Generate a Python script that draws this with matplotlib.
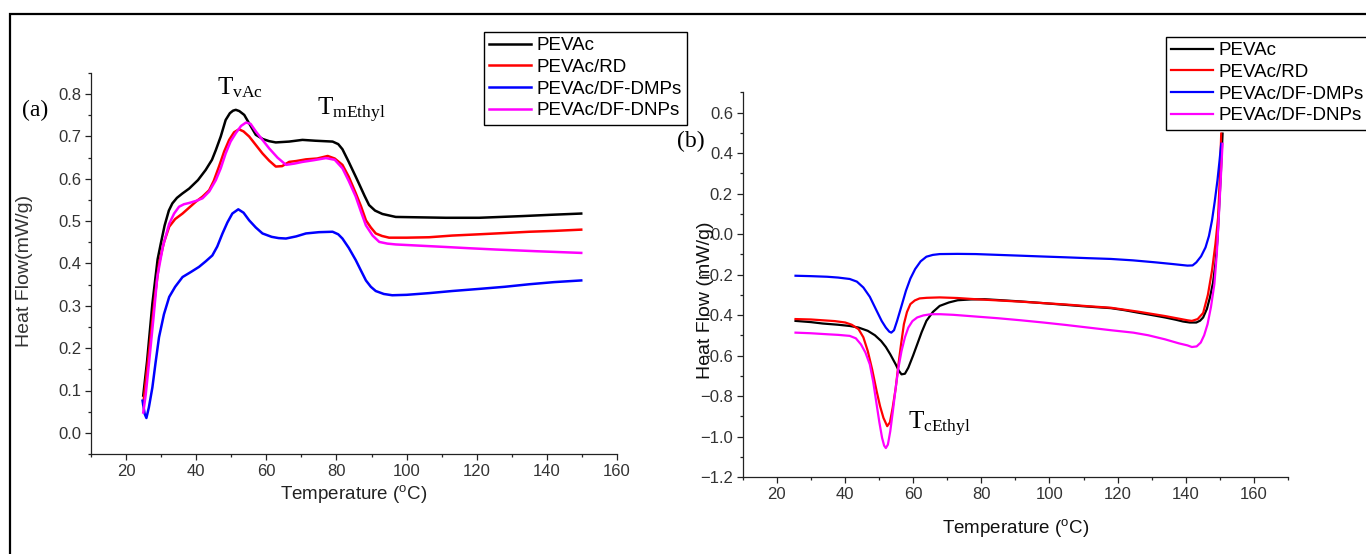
import matplotlib
matplotlib.use("Agg")
import matplotlib.pyplot as plt
from matplotlib.ticker import MultipleLocator, FormatStrFormatter
from matplotlib.patches import Rectangle

plt.rcParams['font.family'] = ['Liberation Sans', 'DejaVu Sans']

# ---------------- Panel (a) data ----------------
a_black_T = [24.9, 26.0, 27.5, 29.0, 29.9, 31.0, 32.2, 33.2, 34.5, 36.0, 38.0, 40.5, 42.7, 44.5, 45.6, 47.0,
             48.4, 49.6, 50.5, 51.3, 52.3, 53.7, 55.3, 57.0, 59.0, 60.8, 62.7, 66.5, 70.3, 74.0, 78.9, 80.5,
             81.7, 83.5, 85.5, 86.4, 88.0, 89.3, 91.0, 93.1, 96.9, 104.0, 111.2, 120.7, 133.0, 141.0, 149.8]
a_black_v = [0.088, 0.17, 0.305, 0.41, 0.447, 0.49, 0.525, 0.542, 0.555, 0.565, 0.577, 0.597, 0.621, 0.645, 0.668,
             0.70, 0.739, 0.755, 0.761, 0.763, 0.760, 0.751, 0.728, 0.704, 0.694, 0.689, 0.686, 0.688, 0.692, 0.690,
             0.688, 0.682, 0.670, 0.64, 0.605, 0.589, 0.56, 0.538, 0.525, 0.517, 0.510, 0.509, 0.508, 0.508, 0.512,
             0.515, 0.518]

a_red_T = [24.9, 26.0, 27.0, 28.2, 29.4, 30.8, 32.3, 34.0, 36.1, 38.0, 39.9, 41.8, 43.7, 45.0, 46.5, 48.0,
           49.4, 50.8, 52.2, 53.5, 55.1, 57.0, 58.9, 60.8, 62.7, 64.5, 66.5, 68.5, 71.3, 74.5, 77.5, 79.5,
           81.7, 83.5, 85.5, 87.0, 88.4, 89.8, 91.2, 93.0, 95.0, 100.0, 106.4, 113.0, 120.7, 128.0, 135.0,
           142.0, 149.8]
a_red_v = [0.068, 0.15, 0.226, 0.32, 0.40, 0.45, 0.487, 0.505, 0.518, 0.532, 0.546, 0.558, 0.573, 0.595, 0.629, 0.665,
           0.692, 0.710, 0.717, 0.712, 0.70, 0.68, 0.660, 0.643, 0.629, 0.630, 0.640, 0.642, 0.646, 0.648, 0.654, 0.648,
           0.633, 0.605, 0.566, 0.535, 0.502, 0.485, 0.471, 0.465, 0.461, 0.461, 0.462, 0.466, 0.469, 0.472, 0.475,
           0.477, 0.48]

a_blue_T = [24.7, 25.3, 25.8, 26.5, 27.5, 28.4, 29.4, 30.8, 32.3, 34.0, 36.1, 38.5, 40.8, 42.7, 44.6, 46.0,
            47.5, 48.9, 50.3, 52.0, 53.5, 55.1, 57.0, 58.9, 61.5, 63.5, 65.6, 68.5, 71.3, 75.0, 78.9, 80.5,
            81.7, 83.5, 85.5, 87.0, 88.4, 89.8, 91.2, 93.5, 95.9, 100.0, 106.4, 113.0, 120.7, 128.0, 135.0,
            142.0, 149.8]
a_blue_v = [0.076, 0.045, 0.035, 0.06, 0.107, 0.165, 0.226, 0.28, 0.321, 0.345, 0.368, 0.38, 0.392, 0.405, 0.419, 0.44,
            0.471, 0.497, 0.518, 0.528, 0.52, 0.502, 0.485, 0.471, 0.463, 0.46, 0.459, 0.464, 0.471, 0.474, 0.475, 0.469,
            0.459, 0.437, 0.408, 0.383, 0.36, 0.345, 0.335, 0.328, 0.325, 0.326, 0.330, 0.335, 0.340, 0.345, 0.351,
            0.356, 0.360]

a_mag_T = [24.9, 25.6, 26.6, 27.8, 28.9, 30.5, 32.3, 33.7, 35.1, 36.5, 38.0, 40.0, 41.8, 43.7, 45.6, 47.0,
           48.4, 49.8, 51.3, 52.8, 54.2, 55.5, 57.0, 58.9, 60.8, 63.2, 65.6, 68.0, 70.3, 73.5, 77.0, 79.5,
           81.7, 83.5, 85.5, 87.0, 88.4, 90.3, 92.2, 94.5, 96.9, 104.0, 111.2, 118.0, 125.5, 137.0, 149.8]
a_mag_v = [0.048, 0.09, 0.17, 0.27, 0.368, 0.44, 0.494, 0.518, 0.534, 0.540, 0.543, 0.548, 0.554, 0.570, 0.597, 0.625,
           0.660, 0.688, 0.708, 0.725, 0.733, 0.730, 0.712, 0.692, 0.672, 0.650, 0.633, 0.636, 0.640, 0.644, 0.649, 0.645,
           0.625, 0.595, 0.558, 0.522, 0.49, 0.466, 0.451, 0.447, 0.445, 0.442, 0.439, 0.436, 0.433, 0.429, 0.425]

# ---------------- Panel (b) data ----------------
b_black_T = [25.5, 30.0, 33.5, 38.0, 41.4, 44.0, 46.7, 48.8, 50.6, 52.0, 53.3, 54.9, 55.8, 56.6, 57.6, 58.6,
             60.0, 61.2, 62.5, 63.9, 65.8, 67.8, 70.5, 73.1, 77.0, 81.0, 86.0, 91.6, 98.0, 104.8, 111.0, 118.0,
             122.0, 125.9, 130.0, 133.9, 137.0, 139.2, 141.2, 143.1, 144.2, 145.1, 146.2, 147.1, 148.0, 148.7,
             149.3, 149.7, 150.3, 150.8]
b_black_v = [-0.429, -0.435, -0.442, -0.448, -0.454, -0.462, -0.478, -0.50, -0.528, -0.558, -0.594, -0.644, -0.675,
             -0.693, -0.690, -0.66, -0.60, -0.545, -0.485, -0.429, -0.385, -0.355, -0.338, -0.327, -0.323, -0.322,
             -0.327, -0.333, -0.341, -0.35, -0.358, -0.366, -0.376, -0.388, -0.40, -0.412, -0.423, -0.432, -0.437,
             -0.437, -0.428, -0.412, -0.37, -0.313, -0.24, -0.148, -0.03, 0.1, 0.30, 0.496]

b_red_T = [25.5, 30.0, 33.5, 37.0, 40.1, 42.0, 44.0, 45.4, 46.7, 48.0, 49.3, 50.3, 51.3, 52.4, 53.2, 54.0,
           54.9, 55.7, 56.5, 57.3, 58.2, 59.2, 60.5, 61.9, 64.0, 67.8, 73.0, 78.4, 85.0, 91.6, 98.0, 104.8,
           111.0, 118.0, 125.9, 133.9, 138.0, 140.5, 141.8, 143.5, 145.1, 146.5, 147.7, 148.7, 149.5, 150.0, 150.4]
b_red_v = [-0.42, -0.422, -0.426, -0.43, -0.437, -0.448, -0.47, -0.51, -0.578, -0.67, -0.776, -0.85, -0.908, -0.949,
           -0.93, -0.858, -0.76, -0.644, -0.54, -0.445, -0.385, -0.346, -0.328, -0.318, -0.315, -0.313, -0.316,
           -0.322, -0.328, -0.334, -0.341, -0.348, -0.356, -0.364, -0.383, -0.405, -0.418, -0.426, -0.429, -0.42,
           -0.39, -0.30, -0.181, -0.05, 0.083, 0.28, 0.496]

b_blue_T = [25.5, 30.0, 34.8, 38.0, 41.4, 43.5, 45.4, 47.3, 49.3, 50.8, 52.0, 53.0, 53.6, 54.4, 55.3, 56.6,
            57.9, 59.2, 60.6, 62.2, 63.9, 65.8, 67.8, 73.0, 78.4, 85.0, 91.6, 98.0, 104.8, 111.0, 118.0, 124.5,
            131.2, 136.0, 140.5, 142.0, 143.1, 144.5, 145.8, 146.8, 147.7, 148.5, 149.3, 149.9, 150.4]
b_blue_v = [-0.206, -0.208, -0.211, -0.215, -0.222, -0.235, -0.264, -0.31, -0.379, -0.43, -0.462, -0.482, -0.487,
            -0.475, -0.429, -0.355, -0.28, -0.22, -0.173, -0.135, -0.112, -0.103, -0.099, -0.098, -0.099, -0.103,
            -0.107, -0.111, -0.115, -0.119, -0.123, -0.13, -0.14, -0.148, -0.156, -0.155, -0.14, -0.11, -0.066,
            -0.01, 0.067, 0.16, 0.265, 0.36, 0.446]

b_mag_T = [25.5, 30.0, 34.8, 38.0, 41.4, 43.2, 44.7, 46.0, 47.3, 48.3, 49.3, 50.1, 50.9, 51.5, 52.0, 52.6,
           53.3, 54.1, 54.9, 55.7, 56.6, 57.6, 58.6, 59.8, 61.2, 63.0, 65.2, 68.0, 71.8, 78.0, 85.0, 91.6,
           98.2, 104.8, 111.4, 118.0, 124.6, 129.0, 133.9, 138.0, 140.5, 141.8, 143.2, 144.4, 145.4, 146.4,
           147.4, 148.4, 149.1, 149.7, 150.3, 150.8]
b_mag_v = [-0.487, -0.49, -0.495, -0.498, -0.503, -0.515, -0.545, -0.585, -0.644, -0.73, -0.842, -0.93, -1.007,
           -1.045, -1.057, -1.04, -0.974, -0.87, -0.759, -0.66, -0.578, -0.51, -0.462, -0.43, -0.412, -0.402,
           -0.396, -0.396, -0.399, -0.407, -0.416, -0.426, -0.437, -0.449, -0.462, -0.475, -0.487, -0.50, -0.52,
           -0.54, -0.55, -0.558, -0.555, -0.536, -0.50, -0.445, -0.36, -0.247, -0.10, 0.083, 0.28, 0.446]

labels = ['PEVAc', 'PEVAc/RD', 'PEVAc/DF-DMPs', 'PEVAc/DF-DNPs']
colors = ['#000000', '#FF0000', '#0000FF', '#FF00FF']

W, H = 1366, 554
fig = plt.figure(figsize=(W / 100, H / 100), dpi=100)

# outer frame (open to the right and bottom, as cropped in the reference)
fig.add_artist(Rectangle((9.5 / W, -0.5), 2.0, 0.5 + (1 - 13.5 / H), transform=fig.transFigure,
                         fill=False, ec='black', lw=1.6))

ax1 = fig.add_axes([91 / W, 1 - 454 / H, (617 - 91) / W, (454 - 73) / H])
ax2 = fig.add_axes([742.7 / W, 1 - 477 / H, (1288 - 742.7) / W, (477 - 92.3) / H])

series_a = [(a_black_T, a_black_v), (a_red_T, a_red_v), (a_blue_T, a_blue_v), (a_mag_T, a_mag_v)]
series_b = [(b_black_T, b_black_v), (b_red_T, b_red_v), (b_blue_T, b_blue_v), (b_mag_T, b_mag_v)]

for (t, v), c, lab in zip(series_a, colors, labels):
    ax1.plot(t, v, color=c, lw=1.8, label=lab, solid_joinstyle='round')
for (t, v), c, lab in zip(series_b, colors, labels):
    ax2.plot(t, v, color=c, lw=1.6, label=lab, solid_joinstyle='round')

tick_col = '#333333'
for ax in (ax1, ax2):
    ax.spines['top'].set_visible(False)
    ax.spines['right'].set_visible(False)
    for s in ('left', 'bottom'):
        ax.spines[s].set_color('#222222')
        ax.spines[s].set_linewidth(0.9)
    ax.tick_params(which='major', direction='out', length=4, width=0.9, color='#222222',
                   labelsize=12, labelcolor=tick_col, pad=3)
    ax.tick_params(which='minor', direction='out', length=2.3, width=0.9, color='#222222')
    ax.xaxis.set_major_locator(MultipleLocator(20))
    ax.xaxis.set_minor_locator(MultipleLocator(10))

ax1.set_xlim(10, 160)
ax1.set_ylim(-0.05, 0.85)
ax1.yaxis.set_major_locator(MultipleLocator(0.1))
ax1.yaxis.set_minor_locator(MultipleLocator(0.05))
ax1.yaxis.set_major_formatter(FormatStrFormatter('%.1f'))

ax2.set_xlim(10, 170)
ax2.set_ylim(-1.2, 0.7)
ax2.yaxis.set_major_locator(MultipleLocator(0.2))
ax2.yaxis.set_minor_locator(MultipleLocator(0.1))

xlabel = r'Temperature ($\mathregular{^o}$C)'
ax1.set_xlabel(xlabel, fontsize=13.5, color='#222222', va='center')
ax1.xaxis.set_label_coords(0.5, -0.105)
ax1.set_ylabel('Heat Flow(mW/g)', fontsize=14, color='#333333', va='center')
ax1.yaxis.set_label_coords(-0.1255, 0.48)

ax2.set_xlabel(xlabel, fontsize=13.5, color='#111111', va='center')
ax2.xaxis.set_label_coords(0.5, -0.1326)
ax2.set_ylabel('Heat Flow (mW/g)', fontsize=14, color='#111111', va='center')
ax2.yaxis.set_label_coords(-0.069, 0.46)

# annotations
serif = ['Liberation Serif', 'DejaVu Serif']
ax1.text(46.0, 0.799, r'$\mathregular{T_{vAc}}$', fontsize=18, family=serif, ha='left', va='baseline')
ax1.text(74.5, 0.749, r'$\mathregular{T_{mEthyl}}$', fontsize=18, family=serif, ha='left', va='baseline')
ax2.text(58.6, -0.966, r'$\mathregular{T_{cEthyl}}$', fontsize=18, family=serif, ha='left', va='baseline')
fig.text(22 / W, 1 - 110 / H, '(a)', fontsize=17, family=serif, ha='left', va='center')
fig.text(677 / W, 1 - 141 / H, '(b)', fontsize=17, family=serif, ha='left', va='center')

leg_kw = dict(loc='upper left', borderaxespad=0, fontsize=13.5, frameon=True, fancybox=False,
              edgecolor='black', framealpha=1, borderpad=0.28, labelspacing=0.24,
              handlelength=2.2, handletextpad=0.3)
l1 = ax1.legend(bbox_to_anchor=(484 / W, 1 - 32 / H), bbox_transform=fig.transFigure, **leg_kw)
l2 = ax2.legend(bbox_to_anchor=(1166 / W, 1 - 37 / H), bbox_transform=fig.transFigure, **leg_kw)
for l in (l1, l2):
    l.get_frame().set_linewidth(1.0)

fig.savefig('out.png', dpi=100)
